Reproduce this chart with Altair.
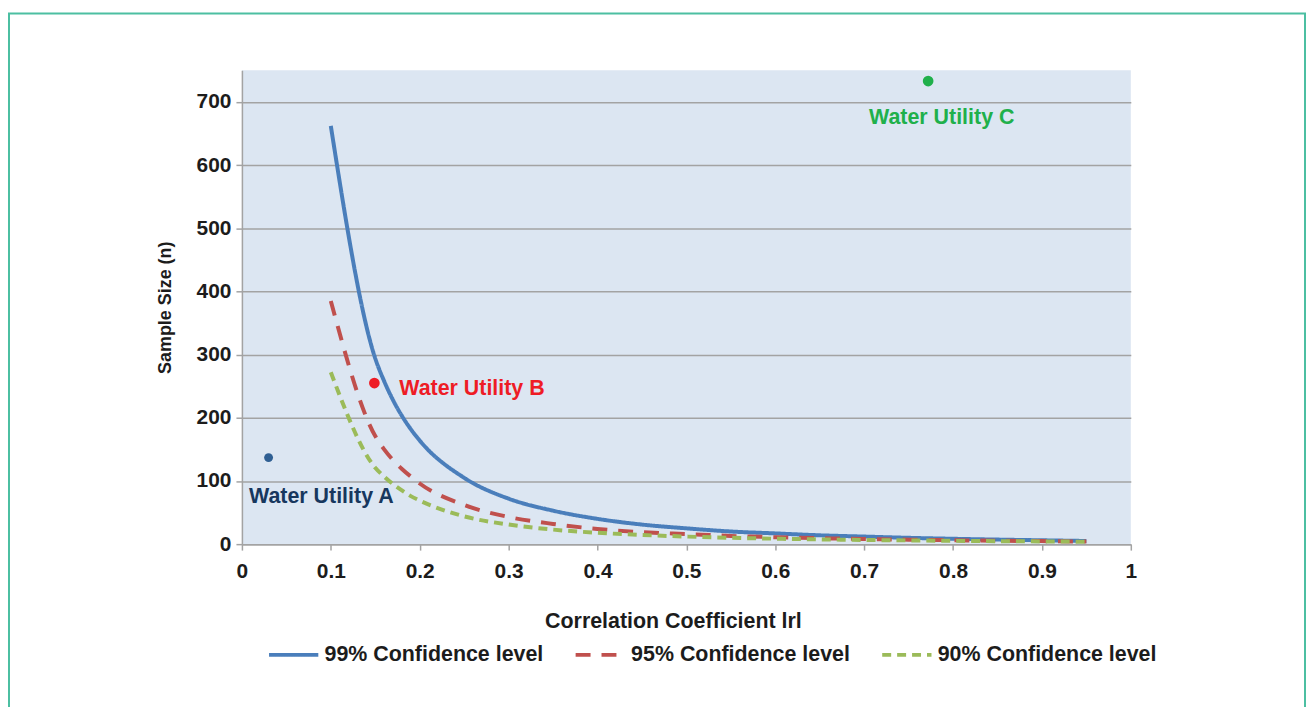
import altair as alt
import pandas as pd

# ---- data ----
r_values = [0.10, 0.15, 0.16, 0.17, 0.18, 0.19, 0.20, 0.25, 0.30, 0.35, 0.40,
            0.45, 0.50, 0.55, 0.60, 0.65, 0.70, 0.75, 0.80, 0.85, 0.90, 0.95]
n_99 = [662, 294, 258, 228, 203, 182, 164, 105, 72, 53, 40,
        31, 25, 20, 17, 14, 12, 10, 8.5, 7.2, 6.1, 5.0]
n_95 = [385, 171, 150, 133, 119, 107, 96, 62, 43, 32, 24,
        19, 16, 13, 11, 9.4, 8.1, 7.1, 6.2, 5.4, 4.8, 4.1]
n_90 = [272, 121, 107, 95, 85, 76, 69, 44, 31, 23, 18,
        14.5, 12, 10, 8.6, 7.5, 6.6, 5.9, 5.2, 4.7, 4.3, 3.8]

series_names = ["99% Confidence level", "95% Confidence level", "90% Confidence level"]
series_colors = ["#4a7ebb", "#c0504d", "#9bbb59"]
series_dashes = [[1, 0], [15, 11], [9, 6]]

utility_names = ["Water Utility A", "Water Utility B", "Water Utility C"]
utility_r = [0.03, 0.149, 0.772]
utility_n = [137, 255, 733]
utility_colors = ["#2f5f93", "#ee1c25", "#20b04b"]
utility_label_colors = ["#17375e", "#ee1c25", "#20b04b"]
utility_sizes = [80, 115, 115]
label_r = [0.008, 0.177, 0.7055]
label_n = [74, 246, 675]

x_ticks = [0, 0.1, 0.2, 0.3, 0.4, 0.5, 0.6, 0.7, 0.8, 0.9, 1]
y_ticks = [0, 100, 200, 300, 400, 500, 600, 700]

FONT = "Liberation Sans"
TXT = "#1c1c1c"
GRID = "#a3a3a3"

# ---- tables ----
rows = []
for name, vals in zip(series_names, [n_99, n_95, n_90]):
    for r, n in zip(r_values, vals):
        rows.append({"r": r, "n": n, "series": name})
curves = pd.DataFrame(rows)

utilities = pd.DataFrame({
    "name": utility_names, "r": utility_r, "n": utility_n,
    "color": utility_colors, "lcolor": utility_label_colors,
    "size": utility_sizes, "lr": label_r, "ln": label_n,
})

x_scale = alt.Scale(domain=[0, 1], nice=False, zero=False)
y_scale = alt.Scale(domain=[0, 750], nice=False)

legend = alt.Legend(
    title=None, orient="none", direction="horizontal", legendX=25, legendY=560,
    symbolType="stroke", symbolSize=2450, symbolStrokeWidth=4,
    labelFont=FONT, labelFontWeight="bold", labelFontSize=21.5, labelColor=TXT,
    labelOffset=4, columnPadding=24, labelLimit=400,
)

x_axis = alt.Axis(
    values=x_ticks, format=".1~f", title="Correlation Coefficient lrl", grid=False,
    domainColor=GRID, domainWidth=1.5, tickColor=GRID, tickWidth=1.5, tickSize=6,
    labelFont=FONT, labelFontWeight="bold", labelFontSize=21, labelColor=TXT,
    labelPadding=11, labelFlush=False,
    titleFont=FONT, titleFontWeight="bold", titleFontSize=21.5, titleColor=TXT,
    titlePadding=29, titleX=433,
)
y_axis = alt.Axis(
    values=y_ticks, title="Sample Size (n)", grid=True, gridColor=GRID, gridWidth=1.5,
    domainColor=GRID, domainWidth=1.5, tickColor=GRID, tickWidth=1.5, tickSize=6,
    labelFont=FONT, labelFontWeight="bold", labelFontSize=21, labelColor=TXT,
    labelPadding=5, labelFlush=False,
    titleFont=FONT, titleFontWeight="bold", titleFontSize=18, titleColor=TXT,
    titlePadding=22,
)

frame = alt.Chart(pd.DataFrame({"k": [0]})).mark_rect(
    fillOpacity=0, stroke="#4cbfa2", strokeWidth=2
).encode(
    x=alt.value(-234), x2=alt.value(1068), y=alt.value(-57), y2=alt.value(720)
)

lines = alt.Chart(curves).mark_line(strokeWidth=4, strokeCap="butt", interpolate="monotone").encode(
    x=alt.X("r:Q", scale=x_scale, axis=x_axis),
    y=alt.Y("n:Q", scale=y_scale, axis=y_axis),
    color=alt.Color("series:N", scale=alt.Scale(domain=series_names, range=series_colors),
                    sort=series_names, legend=legend),
    strokeDash=alt.StrokeDash("series:N", scale=alt.Scale(domain=series_names, range=series_dashes),
                              sort=series_names, legend=legend),
    order=alt.Order("r:Q"),
)

points = alt.Chart(utilities).mark_circle(opacity=1).encode(
    x=alt.X("r:Q", scale=x_scale),
    y=alt.Y("n:Q", scale=y_scale),
    color=alt.Color("color:N", scale=None),
    size=alt.Size("size:Q", scale=None),
)

labels = alt.Chart(utilities).mark_text(
    align="left", baseline="middle", font=FONT, fontWeight="bold", fontSize=21.5
).encode(
    x=alt.X("lr:Q", scale=x_scale),
    y=alt.Y("ln:Q", scale=y_scale),
    text="name:N",
    color=alt.Color("lcolor:N", scale=None),
)

chart = alt.layer(frame, lines, points, labels).properties(
    width=893, height=476,
    padding={"left": 235, "top": 61, "right": 176, "bottom": 162},
    autosize=alt.AutoSizeParams(type="none"),
    background="white",
).configure_view(fill="#dce6f2", strokeWidth=0)

chart.save("out.html", embed_options={"renderer": "svg", "actions": False})
